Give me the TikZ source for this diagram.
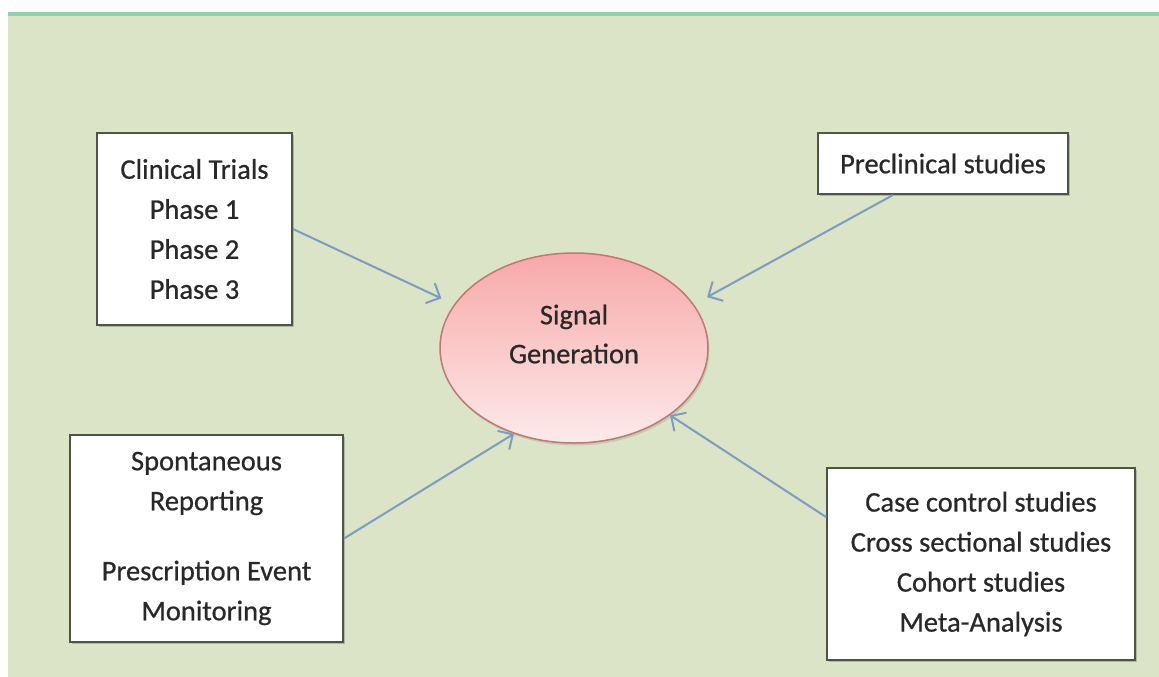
\documentclass[tikz,border=0pt]{standalone}
\usepackage{fontspec}
\setmainfont{Carlito}
\newfontfamily\labelfont{Carlito}[FakeBold=0.6]
\usetikzlibrary{arrows.meta,shadows,shapes.geometric}

\definecolor{panel}{RGB}{220,228,199}
\definecolor{mint}{RGB}{140,212,172}
\definecolor{boxline}{RGB}{78,84,70}
\definecolor{ink}{RGB}{40,40,40}
\definecolor{flow}{RGB}{124,156,192}
\definecolor{pinktop}{RGB}{247,168,168}
\definecolor{pinkbot}{RGB}{253,234,234}
\definecolor{pinkedge}{RGB}{190,122,112}

\tikzset{
  infobox/.style={rectangle, draw=boxline, line width=2pt, fill=white,
    text=ink, font=\labelfont\fontsize{28.5}{40}\selectfont, align=center, inner sep=0pt,
    drop shadow={shadow xshift=2pt, shadow yshift=-2pt, opacity=0.3, fill=black!70}},
  hub/.style={ellipse, draw=pinkedge, line width=1.5pt, inner sep=0pt,
    top color=pinktop, bottom color=pinkbot,
    drop shadow={shadow xshift=1.5pt, shadow yshift=-2.5pt, opacity=0.2, fill=black!60}},
  hubtext/.style={text=ink, font=\labelfont\fontsize{28.5}{39}\selectfont,
    align=center, inner sep=0pt},
  feed/.style={draw=flow, line width=2pt,
    -{Straight Barb[length=11pt, width=22pt, line width=2pt]}}
}

\begin{document}
\begin{tikzpicture}[x=1pt, y=-1pt]
  \useasboundingbox (0,0) rectangle (1159,677);
  % page and panel
  \fill[white] (0,0) rectangle (1159,677);
  \fill[panel] (8,14) rectangle (1159,677);
  \fill[mint] (8,12) rectangle (1159,16);

  % sources
  \node[infobox, minimum width=195pt, minimum height=192pt] (ct) at (194.5,229)
    {Clinical Trials\\Phase 1\\Phase 2\\Phase 3};
  \node[infobox, minimum width=250pt, minimum height=61pt] (pc) at (943,163.5)
    {Preclinical studies};
  \node[infobox, minimum width=273pt, minimum height=207pt] (sp) at (206.5,538.5)
    {Spontaneous\\Reporting\\[30pt]Prescription Event\\Monitoring};
  \node[infobox, minimum width=308pt, minimum height=192pt] (cc) at (981,564)
    {Case control studies\\Cross sectional studies\\Cohort studies\\Meta-Analysis};

  % centre
  \node[hub, minimum width=268pt, minimum height=190pt] (sg) at (574,348) {};
  \node[hubtext] (sgtext) at ([yshift=14pt]sg.center) {Signal\\Generation};

  % connectors
  \draw[feed, shorten >=14pt] (ct.east) -- (sg.160);
  \draw[feed, shorten >=15pt] ([xshift=-50pt]pc.south) -- (sg.20);
  \draw[feed] (sp.east) -- (sg.235);
  \draw[feed] ([yshift=47pt]cc.west) -- (sg.325);
\end{tikzpicture}
\end{document}
